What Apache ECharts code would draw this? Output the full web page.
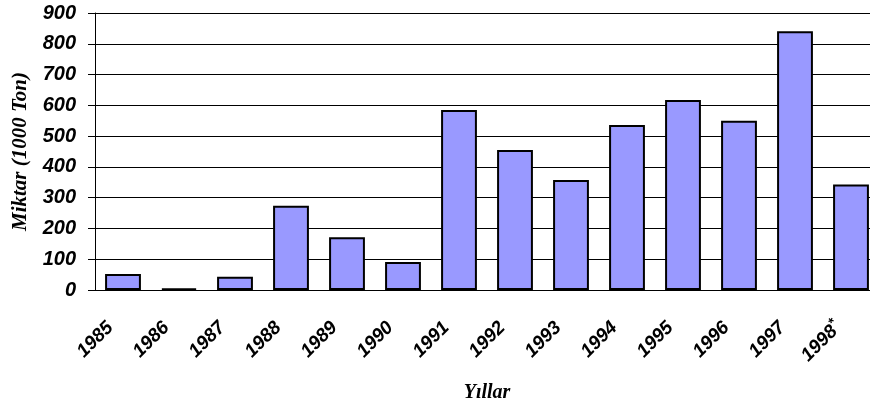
<!DOCTYPE html>
<html>
<head>
<meta charset="utf-8">
<style>
	html, body { margin: 0; padding: 0; background: #fff; }
	#main { width: 870px; height: 405px; }
</style>
<script src="https://cdn.jsdelivr.net/npm/echarts@6/dist/echarts.min.js"></script>
</head>
<body>
<div id="main"></div>
<script>
// 数据
let years = ['1985', '1986', '1987', '1988', '1989', '1990', '1991', '1992', '1993', '1994', '1995', '1996', '1997', '1998*'];
let amounts = [52, 5, 43, 274, 171, 91, 585, 455, 357, 536, 617, 550, 841, 343];
let yTicks = [0, 100, 200, 300, 400, 500, 600, 700, 800, 900];

(function() {
	// 1、初始化echarts实例对象
	let myChart = echarts.init(document.getElementById('main'));

	// 2、指定配置项和数据
	let option = {
		animation: false,
		grid: {
			left: 95,
			top: 13,
			width: 784,
			height: 277,
			outerBoundsMode: 'none'
		},
		xAxis: {
			type: 'category',
			data: years,
			name: 'Yıllar',
			nameLocation: 'middle',
			nameGap: 93,
			nameTextStyle: {
				fontFamily: 'Liberation Serif',
				fontWeight: 'bold',
				fontStyle: 'italic',
				fontSize: 20,
				color: '#000'
			},
			axisLine: {
				lineStyle: { color: '#000', width: 1 }
			},
			axisTick: {
				length: 6,
				lineStyle: { color: '#777' }
			},
			axisLabel: {
				interval: 0,
				rotate: 45,
				margin: 22,
				padding: [0, 18, 0, 0],
				fontFamily: 'Liberation Sans',
				fontWeight: 'bold',
				fontStyle: 'italic',
				fontSize: 19,
				color: '#000',
				// 星号做成上标
				formatter: function(value) {
					return value.replace('*', '{sup|*}');
				},
				rich: {
					sup: {
						fontFamily: 'Liberation Sans',
						fontWeight: 'bold',
						fontSize: 14,
						color: '#000',
						padding: [0, 0, 10, 0]
					}
				}
			}
		},
		yAxis: {
			type: 'value',
			min: yTicks[0],
			max: yTicks[yTicks.length - 1],
			interval: yTicks[1] - yTicks[0],
			name: 'Miktar (1000 Ton)',
			nameLocation: 'middle',
			nameGap: 64,
			nameTextStyle: {
				fontFamily: 'Liberation Serif',
				fontWeight: 'bold',
				fontStyle: 'italic',
				fontSize: 21,
				color: '#000'
			},
			axisLine: {
				show: true,
				lineStyle: { color: '#000', width: 1 }
			},
			axisTick: {
				show: true,
				length: 7,
				lineStyle: { color: '#000' }
			},
			axisLabel: {
				margin: 19,
				fontFamily: 'Liberation Sans',
				fontWeight: 'bold',
				fontStyle: 'italic',
				fontSize: 20,
				color: '#000'
			},
			splitLine: {
				lineStyle: { color: '#000', width: 1 }
			}
		},
		series: [{
			type: 'bar',
			barWidth: '64%',
			itemStyle: {
				color: '#9999ff',
				borderColor: '#000',
				borderWidth: 2
			},
			data: amounts
		}]
	};

	// 3、把配置项给实例对象
	myChart.setOption(option);
})();
</script>
</body>
</html>
